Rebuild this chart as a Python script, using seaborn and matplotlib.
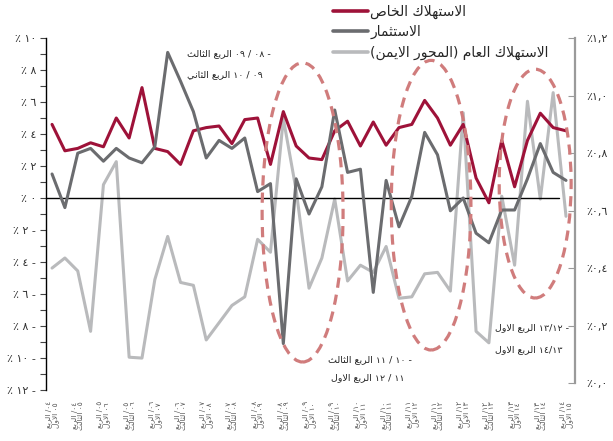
import matplotlib
matplotlib.use("Agg")
import matplotlib.pyplot as plt
import seaborn as sns
from matplotlib.patches import Ellipse

# ---------------- data ----------------
quarters = list(range(41))

private_consumption = [4.6, 2.95, 3.1, 3.45, 3.2, 5.0, 3.75, 6.9, 3.1, 2.9,
                       2.1, 4.2, 4.4, 4.5, 3.4, 4.9, 5.0, 2.1, 5.4, 3.25,
                       2.5, 2.4, 4.2, 4.8, 3.25, 4.75, 3.3, 4.4, 4.6, 6.1,
                       5.0, 3.3, 4.6, 1.25, -0.3, 3.6, 0.7, 3.6, 5.3, 4.4,
                       4.2]

investment = [1.5, -0.6, 2.8, 3.1, 2.3, 3.1, 2.5, 2.2, 3.2, 9.1,
              7.3, 5.4, 2.5, 3.6, 3.1, 3.75, 0.4, 0.9, -9.1, 1.2,
              -1.0, 0.7, 5.5, 1.6, 1.8, -5.9, 1.1, -1.8, 0.1, 4.1,
              2.7, -0.8, 0.0, -2.2, -2.8, -0.75, -0.75, 1.2, 3.4, 1.6,
              1.1]

government_consumption = [0.40, 0.435, 0.39, 0.18, 0.69, 0.77, 0.09, 0.087, 0.36, 0.51,
                          0.35, 0.34, 0.15, 0.21, 0.27, 0.30, 0.50, 0.455, 0.92, 0.67,
                          0.33, 0.435, 0.64, 0.355, 0.41, 0.385, 0.475, 0.295, 0.30, 0.38,
                          0.385, 0.32, 0.94, 0.18, 0.14, 0.65, 0.41, 0.98, 0.64, 1.01,
                          0.58]

left_ticks = [-12, -10, -8, -6, -4, -2, 0, 2, 4, 6, 8, 10]
left_minor = [-11, -9, -7, -5, -3, -1, 1, 3, 5, 7, 9]
right_ticks = [0.0, 0.2, 0.4, 0.6, 0.8, 1.0, 1.2]

first_fiscal_year = 4          # fiscal year 04/05
series_names = ["الاستهلاك الخاص", "الاستثمار", "الاستهلاك العام (المحور الايمن)"]

# ---------------- Arabic helpers ----------------
_DIGITS = str.maketrans("0123456789", "٠١٢٣٤٥٦٧٨٩")

def ar_digits(s):
    return str(s).translate(_DIGITS)

# presentation-form base code and number of forms (2: joins right only, 4: dual)
_BASE = {"ا": (0xFE8D, 2), "ب": (0xFE8F, 4), "ت": (0xFE95, 4), "ث": (0xFE99, 4),
         "ح": (0xFEA1, 4), "خ": (0xFEA5, 4), "د": (0xFEA9, 2), "ر": (0xFEAD, 2),
         "س": (0xFEB1, 4), "ص": (0xFEB9, 4), "ع": (0xFEC9, 4), "ك": (0xFED9, 4),
         "ل": (0xFEDD, 4), "م": (0xFEE1, 4), "ن": (0xFEE5, 4), "ه": (0xFEE9, 4),
         "و": (0xFEED, 2), "ي": (0xFEF1, 4), "لا": (0xFEFB, 2)}
_MIRROR = {"(": ")", ")": "("}

def arabic(text):
    """Shape Arabic letters and return them in visual (left-to-right) order."""
    tokens, i = [], 0
    while i < len(text):
        if text[i] == "ل" and i + 1 < len(text) and text[i + 1] == "ا":
            tokens.append("لا")
            i += 2
        else:
            tokens.append(text[i])
            i += 1
    out = []
    for k, t in enumerate(tokens):
        if t not in _BASE:
            out.append(_MIRROR.get(t, t))
            continue
        base, n = _BASE[t]
        prev = tokens[k - 1] if k > 0 else None
        nxt = tokens[k + 1] if k + 1 < len(tokens) else None
        join_prev = prev in _BASE and _BASE[prev][1] == 4
        join_next = n == 4 and nxt in _BASE
        form = 3 if (join_prev and join_next) else 1 if join_prev else 2 if join_next else 0
        out.append(chr(base + form))
    return "".join(reversed(out))


def quarter_label(q):
    fy = first_fiscal_year + q // 4
    word = "الاول" if q % 4 == 0 else "الثالث"
    line1 = arabic("الربع") + " /" + ar_digits(f"{fy:02d}")
    line2 = arabic(word) + " " + ar_digits(f"{fy + 1:02d}")
    return line1 + "\n" + line2


def left_label(v):
    s = "٪ " + ar_digits(abs(v))
    return s + " -" if v < 0 else s


def right_label(v):
    whole, frac = f"{v:.1f}".split(".")
    return "٪" + ar_digits(whole) + "," + ar_digits(frac)

# ---------------- figure ----------------
sns.set_style("white")
plt.rcParams["font.family"] = ["DejaVu Sans"]

RED = "#9e1239"
DARK = "#6b6c6f"
LIGHT = "#b9babc"
RING = "#d07c7c"

fig = plt.figure(figsize=(6.13, 4.41), dpi=100)
ax = fig.add_axes([46 / 613, 1 - 390 / 441, (575 - 46) / 613, (390 - 38) / 441])
ax2 = ax.twinx()

sns.lineplot(x=quarters, y=government_consumption, ax=ax2, color=LIGHT, lw=2.2)
sns.lineplot(x=quarters, y=private_consumption, ax=ax, color=RED, lw=2.2)
sns.lineplot(x=quarters, y=investment, ax=ax, color=DARK, lw=2.2)

ax.set_zorder(ax2.get_zorder() + 1)
ax.patch.set_visible(False)

ax.set_xlim(-0.47, 40.7)
ax.set_ylim(-12, 10)
ax2.set_ylim(-0.024, 1.2)

ax.axhline(0, xmin=0, xmax=0.97, color="black", lw=1.0, zorder=1)

# highlighted periods
for cx, cy, w, h in [(19.5, -0.9, 6.3, 18.7), (29.5, -0.45, 6.2, 18.1), (37.6, 0.9, 5.6, 14.3)]:
    ax.add_patch(Ellipse((cx, cy), w, h, fill=False, ec=RING, lw=2.3,
                         ls=(0, (3.2, 2.2)), zorder=6, clip_on=False))

# axes styling
for s in ["top", "bottom"]:
    ax.spines[s].set_visible(False)
    ax2.spines[s].set_visible(False)
ax.spines["right"].set_visible(False)
ax2.spines["left"].set_visible(False)
ax.spines["left"].set_color("black")
ax.spines["left"].set_linewidth(1.0)
ax2.spines["right"].set_color("#9a9a9a")
ax2.spines["right"].set_linewidth(1.6)
ax2.spines["right"].set_bounds(0, 1.2)

ax.set_yticks(left_ticks)
ax.set_yticks(left_minor, minor=True)
ax.set_yticklabels([left_label(v) for v in left_ticks])
ax.tick_params(axis="y", which="both", direction="out", length=4, width=0.8,
               color="#444444", labelsize=8, labelcolor="#333333", pad=3, left=True)

ax2.set_yticks(right_ticks)
ax2.set_yticklabels([right_label(v) for v in right_ticks])
ax2.tick_params(axis="y", direction="in", length=5, width=0.8, color="#9a9a9a",
                labelsize=8, labelcolor="#333333", pad=8, right=True)

ax.set_xticks(quarters[::2])
ax.set_xticklabels([quarter_label(q) for q in quarters[::2]], rotation=90,
                   fontsize=5.3, color="#555555", linespacing=1.0, va="top", ha="center")
ax.tick_params(axis="x", length=0, pad=8)
ax.set_xlabel("")
ax.set_ylabel("")
ax2.set_ylabel("")

# legend
handles = [ax.lines[0], ax.lines[1], ax2.lines[0]]
leg = ax.legend(handles, [arabic(n) for n in series_names], loc="upper left",
                bbox_to_anchor=(326 / 613, 1.005), bbox_transform=fig.transFigure,
                frameon=False, fontsize=10, handlelength=2.5, handletextpad=0.2,
                labelspacing=0.45, borderaxespad=0.1)
for ln in leg.get_lines():
    ln.set_linewidth(2.6)

# period notes
note_kw = dict(fontsize=6.8, color="#222222", ha="left", va="center")
ax.text(10.5, 9.05, arabic("الربع الثالث") + " " + ar_digits("09 / 08 -"), **note_kw)
ax.text(10.5, 7.7, arabic("الربع الثاني") + " " + ar_digits("10 / 09"), **note_kw)
ax.text(21.5, -10.1, arabic("الربع الثالث") + " " + ar_digits("11 / 10 -"), **note_kw)
ax.text(21.7, -11.2, arabic("الربع الاول") + " " + ar_digits("12 / 11"), **note_kw)
ax.text(34.5, -8.1, arabic("الربع الاول") + " " + ar_digits("13/12 -"), **note_kw)
ax.text(34.5, -9.5, arabic("الربع الاول") + " " + ar_digits("14/13"), **note_kw)

fig.savefig("out.png", dpi=100)
